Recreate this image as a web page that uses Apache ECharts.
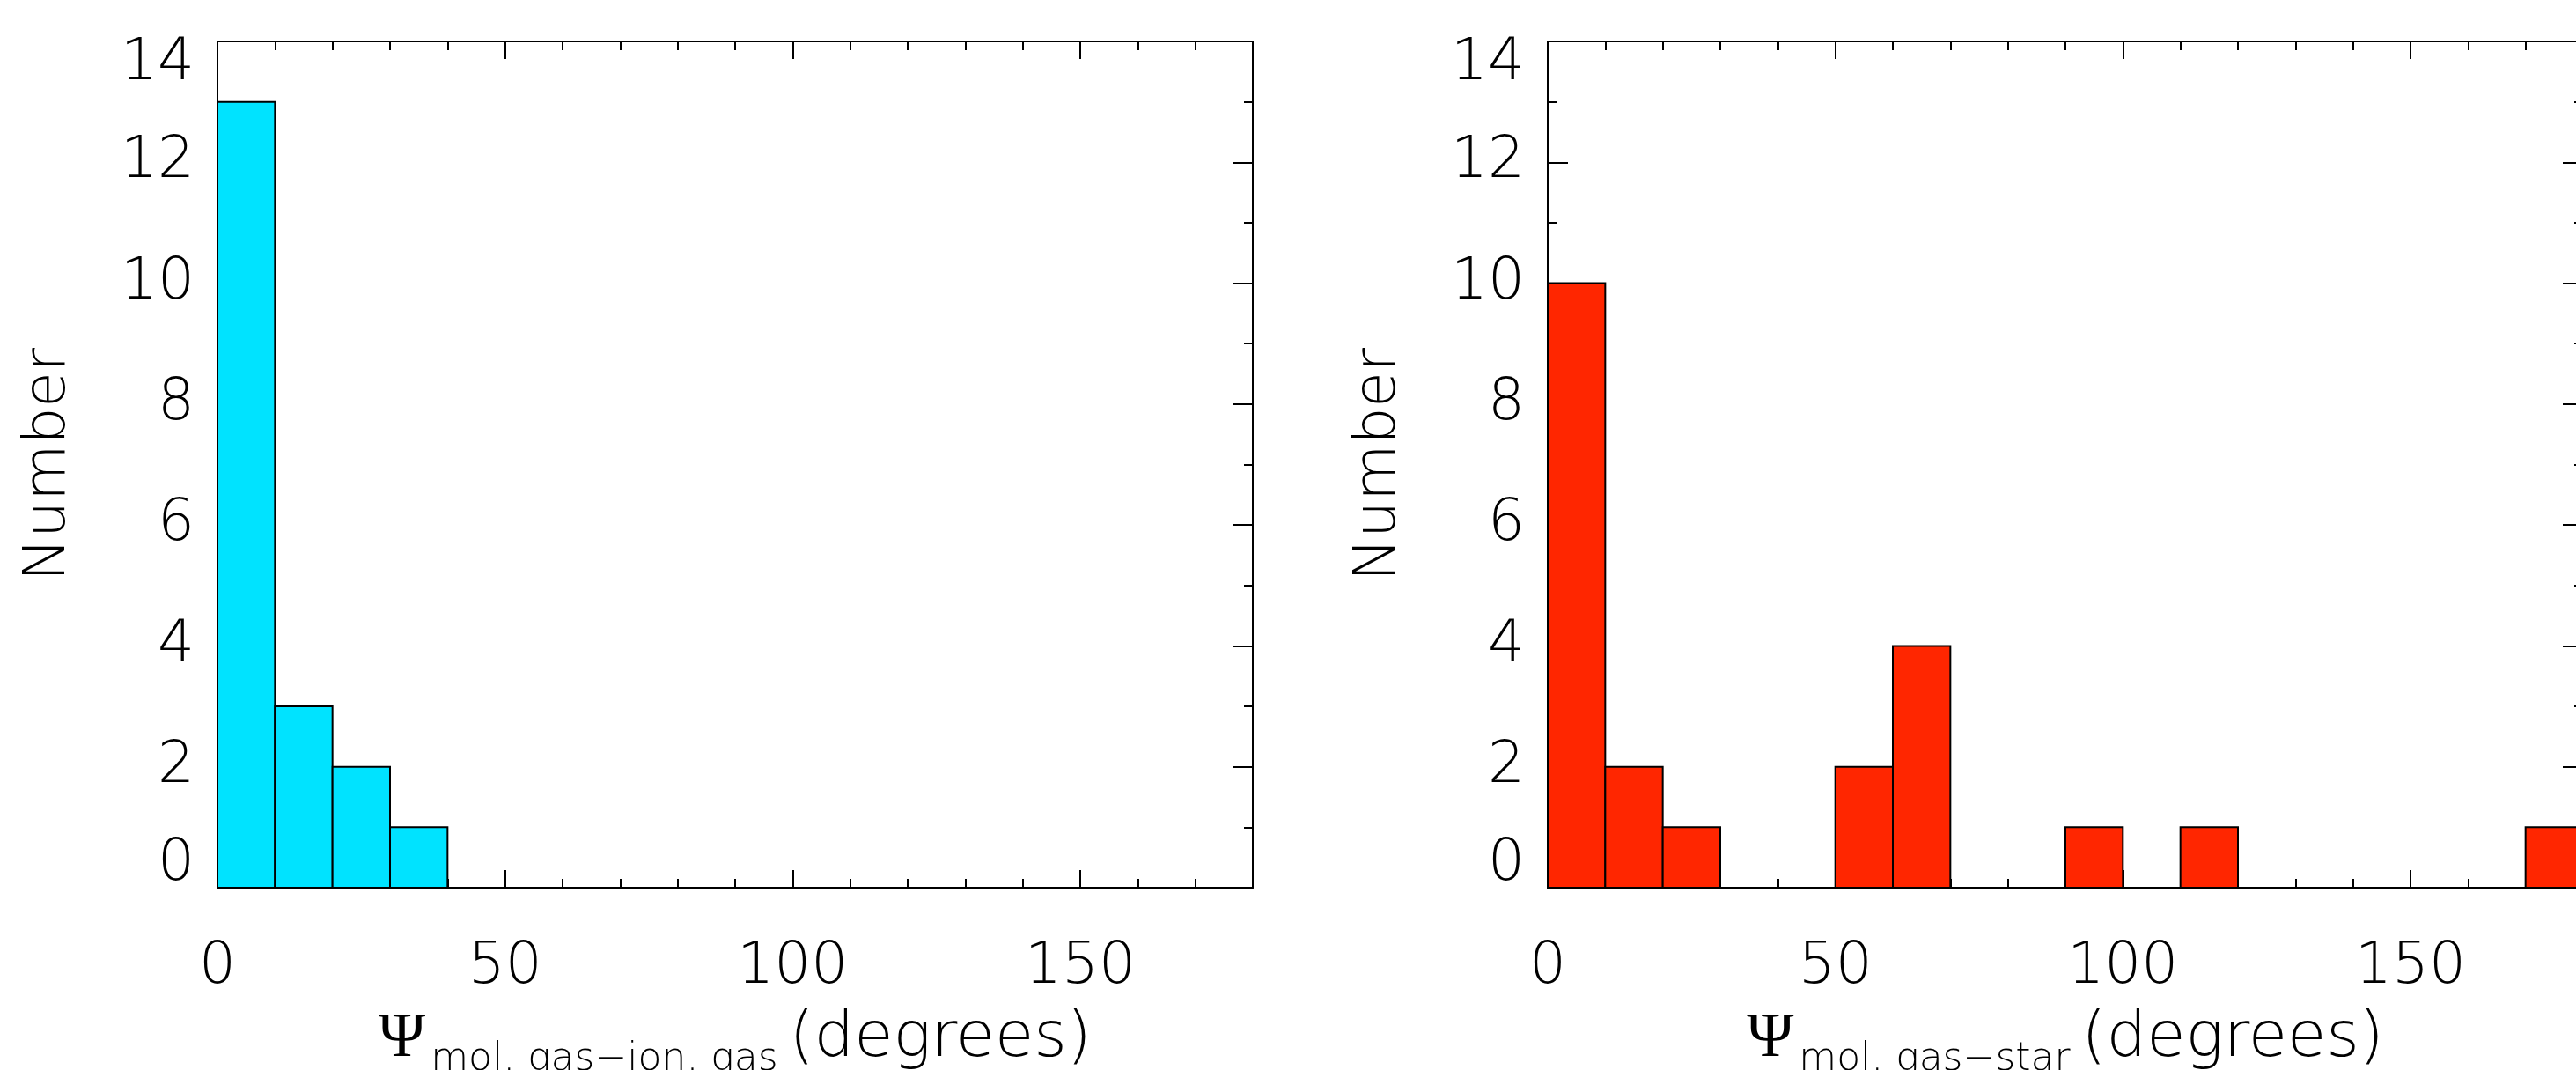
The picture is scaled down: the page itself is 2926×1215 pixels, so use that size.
<!DOCTYPE html>
<html>
<head>
<meta charset="utf-8">
<script src="https://cdn.jsdelivr.net/npm/echarts@6/dist/echarts.min.js"></script>
<style>
html,body{margin:0;padding:0;background:#fff;}
#chart{width:2926px;height:1215px;}
</style>
</head>
<body>
<div id="chart"></div>
<script>
// ---- data ----
const binStarts = [0,10,20,30,40,50,60,70,80,90,100,110,120,130,140,150,160,170];
const binWidth = 10;
const countsIonGas = [13,3,2,1,0,0,0,0,0,0,0,0,0,0,0,0,0,0];
const countsStar   = [10,2,1,0,0,2,4,0,0,1,0,1,0,0,0,0,0,1];
const xMin = 0, xMax = 180, xMajor = 50, xMinor = 10;
const yMin = 0, yMax = 14, yMajor = 2;
const yTitle = 'Number';
const xSubLeft = 'mol. gas\u2212ion. gas';
const xSubRight = 'mol. gas\u2212star';
const xUnit = '(degrees)';
const colorLeft = '#00e3ff';
const colorRight = '#ff2600';

const FONT = 'DejaVu Sans';
const FW = 200;
const ink = '#000';

const grids = [
  {left: 247, top: 47, width: 1176, height: 961, containLabel: false, outerBoundsMode: 'none'},
  {left: 1758, top: 47, width: 1176, height: 961, containLabel: false, outerBoundsMode: 'none'}
];

function xAxesFor(gi, sub) {
  const base = {type: 'value', gridIndex: gi, min: xMin, max: xMax, splitLine: {show: false}};
  return [
    Object.assign({}, base, {
      position: 'bottom', interval: xMajor,
      axisLine: {show: true, onZero: false, lineStyle: {color: ink, width: 2}},
      axisTick: {show: true, inside: true, length: 20, lineStyle: {color: ink, width: 2}},
      axisLabel: {show: true, showMaxLabel: false, margin: 58, color: ink, fontFamily: FONT, fontWeight: FW, fontSize: 66},
      name: '{psi|\u03A8}{sub|' + sub + '}{gap| }{main|' + xUnit + '}',
      nameLocation: 'middle', nameGap: 146,
      nameTextStyle: {
        color: ink,
        rich: {
          psi: {fontFamily: 'Liberation Serif', fontSize: 72, lineHeight: 72, padding: [0,0,10,0], verticalAlign: 'bottom', color: ink},
          sub: {fontFamily: FONT, fontWeight: FW, fontSize: 44, lineHeight: 44, verticalAlign: 'bottom', color: ink, padding: [0,0,0,6]},
          gap: {fontFamily: FONT, fontSize: 40, lineHeight: 40, verticalAlign: 'bottom'},
          main: {fontFamily: FONT, fontWeight: FW, fontSize: 72, lineHeight: 72, padding: [0,0,10,0], verticalAlign: 'bottom', color: ink}
        }
      }
    }),
    Object.assign({}, base, {
      position: 'bottom', interval: xMinor,
      axisLine: {show: false, onZero: false},
      axisTick: {show: true, inside: true, length: 10, lineStyle: {color: ink, width: 2}},
      axisLabel: {show: false}
    }),
    Object.assign({}, base, {
      position: 'top', interval: xMajor,
      axisLine: {show: true, onZero: false, lineStyle: {color: ink, width: 2}},
      axisTick: {show: true, inside: true, length: 20, lineStyle: {color: ink, width: 2}},
      axisLabel: {show: false}
    }),
    Object.assign({}, base, {
      position: 'top', interval: xMinor,
      axisLine: {show: false, onZero: false},
      axisTick: {show: true, inside: true, length: 10, lineStyle: {color: ink, width: 2}},
      axisLabel: {show: false}
    })
  ];
}

function yAxesFor(gi) {
  const base = {type: 'value', gridIndex: gi, min: yMin, max: yMax, interval: yMajor, splitLine: {show: false},
    minorTick: {show: true, splitNumber: 2, length: 10, lineStyle: {color: ink, width: 2}}};
  return [
    Object.assign({}, base, {
      position: 'left',
      axisLine: {show: true, onZero: false, lineStyle: {color: ink, width: 2}},
      axisTick: {show: true, inside: true, length: 23, lineStyle: {color: ink, width: 2}},
      axisLabel: {show: true, margin: 26, color: ink, fontFamily: FONT, fontWeight: FW, fontSize: 66, lineHeight: 52,
        verticalAlignMinLabel: 'bottom', verticalAlignMaxLabel: 'top'},
      name: yTitle, nameLocation: 'middle', nameGap: 158,
      nameTextStyle: {color: ink, fontFamily: FONT, fontWeight: FW, fontSize: 66}
    }),
    Object.assign({}, base, {
      position: 'right',
      axisLine: {show: true, onZero: false, lineStyle: {color: ink, width: 2}},
      axisTick: {show: true, inside: true, length: 23, lineStyle: {color: ink, width: 2}},
      axisLabel: {show: false}
    })
  ];
}

function histSeries(counts, xi, yi, color) {
  return {
    type: 'custom',
    xAxisIndex: xi, yAxisIndex: yi,
    encode: {x: [0, 1], y: 2},
    data: binStarts.map((s, i) => [s, s + binWidth, counts[i]]),
    renderItem: function (params, api) {
      const n = api.value(2);
      if (!n) return null;
      const p0 = api.coord([api.value(0), n]);
      const p1 = api.coord([api.value(1), 0]);
      return {
        type: 'rect',
        shape: {x: p0[0], y: p0[1], width: p1[0] - p0[0], height: p1[1] - p0[1]},
        style: {fill: color, stroke: ink, lineWidth: 2}
      };
    },
    z: 3
  };
}

const chart = echarts.init(document.getElementById('chart'), null, {renderer: 'canvas'});
chart.setOption({
  animation: false,
  backgroundColor: '#fff',
  grid: grids,
  xAxis: [].concat(xAxesFor(0, xSubLeft), xAxesFor(1, xSubRight)),
  yAxis: [].concat(yAxesFor(0), yAxesFor(1)),
  series: [
    histSeries(countsIonGas, 0, 0, colorLeft),
    histSeries(countsStar, 4, 2, colorRight)
  ]
});
</script>
</body>
</html>
